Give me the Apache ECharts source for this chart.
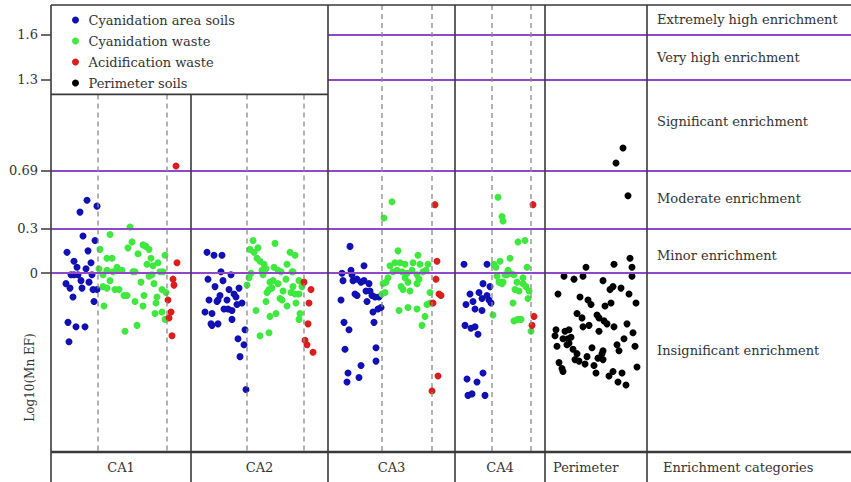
<!DOCTYPE html>
<html><head><meta charset="utf-8">
<script src="https://cdn.jsdelivr.net/npm/echarts@6/dist/echarts.min.js"></script>
<style>html,body{margin:0;padding:0;background:#fff}#c{width:851px;height:482px}</style>
</head><body><div id="c"></div><script>
// ---- data (x = jitter position within the plot, y = Log10(Mn EF)) ----
const categories = ['CA1', 'CA2', 'CA3', 'CA4', 'Perimeter'];
const bandLabels = ['Extremely high enrichment', 'Very high enrichment', 'Significant enrichment',
  'Moderate enrichment', 'Minor enrichment', 'Insignificant enrichment'];
const bandLabelValues = [1.7, 1.45, 1.02, 0.5, 0.12, -0.52];
const thresholds = [0, 0.3, 0.69, 1.3, 1.6];
const tickLabels = ['0', '0.3', '0.69', '1.3', '1.6'];
const seriesNames = ['Cyanidation area soils', 'Cyanidation waste', 'Acidification waste', 'Perimeter soils'];

const soilsCA1 = [[36,0.49],[46,0.45],[29,0.41],[32,0.25],[44,0.22],[16,0.14],[37,0.15],[23,0.08],[40,0.07],[26,0.04],[35,0.03],[20,-0.01],[23,-0.01],[27,-0.01],[41,-0.01],[30,-0.05],[38,-0.06],[15,-0.07],[19,-0.10],[31,-0.10],[42,-0.11],[46,-0.11],[22,-0.16],[43,-0.19],[17,-0.33],[25,-0.36],[34,-0.36],[18,-0.46]];
const soilsCA2 = [[156,0.14],[163,0.12],[171,0.12],[170,0.01],[180,-0.01],[157,-0.04],[172,-0.05],[164,-0.09],[178,-0.11],[188,-0.10],[183,-0.14],[185,-0.16],[169,-0.15],[158,-0.18],[166,-0.19],[167,-0.18],[176,-0.18],[191,-0.20],[186,-0.21],[173,-0.24],[177,-0.24],[181,-0.25],[154,-0.26],[161,-0.27],[181,-0.31],[160,-0.34],[167,-0.34],[161,-0.35],[194,-0.38],[187,-0.44],[193,-0.48],[189,-0.56],[195,-0.78]];
const soilsCA3 = [[299,0.18],[313,0.05],[291,0.00],[292,-0.05],[300,0.02],[301,-0.01],[302,-0.05],[306,-0.04],[310,-0.06],[313,-0.05],[318,-0.07],[304,-0.14],[306,-0.15],[315,-0.12],[319,-0.12],[321,-0.15],[324,-0.16],[328,-0.16],[290,-0.18],[316,-0.19],[330,-0.23],[327,-0.24],[322,-0.26],[293,-0.33],[323,-0.33],[298,-0.38],[294,-0.51],[325,-0.50],[310,-0.62],[325,-0.59],[297,-0.67],[296,-0.73],[308,-0.70]];
const soilsCA4 = [[413,0.06],[436,0.06],[432,-0.07],[439,-0.09],[419,-0.14],[428,-0.13],[431,-0.17],[436,-0.15],[438,-0.18],[440,-0.20],[422,-0.19],[415,-0.21],[424,-0.24],[431,-0.25],[414,-0.35],[420,-0.37],[424,-0.36],[427,-0.41],[432,-0.67],[416,-0.71],[426,-0.73],[417,-0.82],[421,-0.81],[434,-0.82]];

const wasteCA1 = [[79,0.31],[59,0.26],[81,0.21],[77,0.17],[92,0.19],[95,0.18],[49,0.16],[98,0.16],[87,0.13],[114,0.12],[56,0.10],[61,0.10],[100,0.10],[96,0.06],[107,0.07],[102,0.05],[48,0.03],[66,0.04],[56,0.02],[62,0.01],[67,0.02],[71,0.02],[82,0.01],[84,0.01],[109,0.01],[112,0.01],[52,-0.01],[98,-0.02],[101,-0.01],[59,-0.05],[90,-0.06],[103,-0.07],[52,-0.09],[56,-0.10],[64,-0.11],[68,-0.11],[73,-0.15],[76,-0.15],[111,-0.11],[93,-0.15],[115,-0.13],[106,-0.16],[84,-0.19],[105,-0.20],[92,-0.22],[53,-0.22],[104,-0.27],[111,-0.26],[114,-0.31],[86,-0.35],[74,-0.39]];
const wasteCA2 = [[202,0.22],[224,0.20],[207,0.17],[199,0.16],[203,0.14],[239,0.14],[244,0.12],[206,0.10],[209,0.08],[213,0.06],[236,0.06],[223,0.04],[227,0.02],[211,0.02],[215,0.03],[241,0.01],[242,0.01],[200,0.00],[212,-0.01],[230,0.01],[235,-0.04],[198,-0.03],[248,-0.05],[219,-0.06],[222,-0.05],[227,-0.07],[196,-0.08],[251,-0.09],[242,-0.09],[218,-0.11],[221,-0.10],[216,-0.13],[232,-0.12],[240,-0.13],[244,-0.14],[248,-0.14],[229,-0.17],[231,-0.18],[215,-0.19],[236,-0.22],[245,-0.20],[205,-0.25],[225,-0.27],[219,-0.29],[249,-0.27],[248,-0.31],[218,-0.40],[209,-0.42]];
const wasteCA3 = [[341,0.48],[333,0.37],[347,0.15],[367,0.12],[377,0.06],[339,0.05],[344,0.07],[349,0.07],[354,0.06],[362,0.07],[369,0.06],[342,0.01],[346,0.02],[351,0.01],[356,0.00],[361,0.02],[366,-0.01],[372,0.01],[375,0.02],[337,-0.03],[335,-0.06],[332,-0.07],[354,-0.03],[357,-0.06],[368,-0.04],[366,-0.07],[350,-0.09],[352,-0.11],[359,-0.12],[334,-0.13],[331,-0.14],[379,-0.13],[376,-0.21],[379,-0.20],[348,-0.25],[357,-0.23],[366,-0.24],[374,-0.29],[371,-0.35]];
const wasteCA4 = [[447,0.51],[451,0.38],[452,0.35],[467,0.21],[474,0.22],[459,0.10],[449,0.08],[443,0.06],[445,0.04],[476,0.04],[457,0.02],[459,0.00],[456,-0.01],[454,-0.01],[463,-0.01],[446,-0.02],[448,-0.06],[451,-0.07],[452,-0.06],[472,-0.03],[472,-0.07],[475,-0.09],[466,-0.06],[464,-0.11],[468,-0.12],[478,-0.12],[477,-0.17],[462,-0.20],[442,-0.28],[463,-0.32],[467,-0.31],[470,-0.31],[480,-0.39]];

const acidCA1 = [[125,0.72],[126,0.07],[122,-0.04],[123,-0.08],[117,-0.18],[120,-0.26],[118,-0.30],[121,-0.42]];
const acidCA2 = [[253,-0.06],[260,-0.11],[258,-0.20],[257,-0.34],[254,-0.45],[256,-0.48],[262,-0.53]];
const acidCA3 = [[384,0.46],[386,0.08],[385,-0.04],[388,-0.14],[390,-0.15],[382,-0.20],[387,-0.69],[381,-0.79]];
const acidCA4 = [[482,0.46],[483,-0.29],[481,-0.35]];

const perimeterSoils = [[572,0.84],[565,0.74],[577,0.52],[579,0.10],[581,0.04],[563,0.06],[535,0.04],[581,-0.02],[513,-0.02],[523,-0.04],[532,-0.02],[552,-0.05],[562,-0.09],[559,-0.11],[570,-0.10],[507,-0.14],[578,-0.14],[529,-0.16],[537,-0.18],[540,-0.21],[560,-0.20],[554,-0.22],[585,-0.20],[526,-0.27],[546,-0.28],[548,-0.30],[553,-0.32],[556,-0.34],[531,-0.30],[538,-0.35],[532,-0.36],[548,-0.39],[576,-0.34],[563,-0.36],[505,-0.38],[514,-0.39],[518,-0.38],[504,-0.42],[512,-0.44],[517,-0.44],[520,-0.43],[573,-0.44],[582,-0.40],[506,-0.49],[516,-0.48],[518,-0.47],[522,-0.51],[526,-0.54],[566,-0.48],[568,-0.52],[584,-0.49],[541,-0.50],[552,-0.52],[551,-0.54],[524,-0.58],[528,-0.59],[534,-0.61],[536,-0.56],[547,-0.57],[552,-0.58],[543,-0.62],[545,-0.67],[508,-0.60],[511,-0.64],[512,-0.66],[562,-0.66],[558,-0.69],[571,-0.67],[567,-0.73],[575,-0.75],[586,-0.63]];

// ---- chart ----
(function () {
const FONT = 'DejaVu Serif';
const FS = 13;
const TXT = '#333';
const PURPLE = '#8e48c8';
const FRAME = '#3a3a3a';
const X_MAX = 800, Y_MIN = -1.2, Y_MAX = 1.8;
const sepX = [140, 277, 404, 494, 596];     // solid column separators (x units)
const dashX = [47, 116, 196, 253, 331, 381, 441, 480];

const chart = echarts.init(document.getElementById('c'), null, {renderer: 'svg'});

const markLines = thresholds.map(v => [
  {coord: [v >= 1.3 ? sepX[1] : 0, v]}, {coord: [X_MAX, v]}
]);

const option = {
  animation: false,
  grid: {left: 51, top: 5, width: 800, height: 447, show: false},
  xAxis: {type: 'value', min: 0, max: X_MAX, show: false},
  yAxis: {
    type: 'value', min: Y_MIN, max: Y_MAX,
    axisLine: {show: false},
    splitLine: {show: false},
    axisTick: {show: true, customValues: thresholds, length: 10, lineStyle: {color: FRAME, width: 1.5}},
    axisLabel: {show: true, customValues: thresholds, margin: 13, color: TXT,
      fontFamily: FONT, fontSize: FS,
      formatter: v => { const i = thresholds.indexOf(v); return i >= 0 ? tickLabels[i] : ''; }}
  },
  legend: {
    orient: 'vertical', left: 67, top: 7, itemWidth: 16, itemHeight: 7, itemGap: 5,
    icon: 'circle', data: seriesNames,
    textStyle: {color: TXT, fontFamily: FONT, fontSize: FS, lineHeight: 16}
  },
  series: [
    {name: seriesNames[0], type: 'scatter', symbolSize: 7, itemStyle: {color: '#1010b4', opacity: 1},
     data: [].concat(soilsCA1, soilsCA2, soilsCA3, soilsCA4),
     markLine: {silent: true, symbol: ['none', 'none'], label: {show: false},
       lineStyle: {color: PURPLE, width: 2, type: 'solid'}, data: markLines}},
    {name: seriesNames[1], type: 'scatter', symbolSize: 7, itemStyle: {color: '#3ee83e', opacity: 1},
     data: [].concat(wasteCA1, wasteCA2, wasteCA3, wasteCA4)},
    {name: seriesNames[2], type: 'scatter', symbolSize: 7, itemStyle: {color: '#dd1c1c', opacity: 1},
     data: [].concat(acidCA1, acidCA2, acidCA3, acidCA4)},
    {name: seriesNames[3], type: 'scatter', symbolSize: 7, itemStyle: {color: '#000000', opacity: 1},
     data: perimeterSoils}
  ]
};
chart.setOption(option);

// ---- frame, separators and text placed through the axes' scales ----
const P = (x, y) => chart.convertToPixel({gridIndex: 0}, [x, y]);
const H = chart.getHeight();
const yTop = P(0, Y_MAX)[1];
const yBottom = P(0, Y_MIN)[1];
const xLeft = P(0, 0)[0];
const xRight = P(X_MAX, 0)[0];
const legendBottom = P(0, 1.2)[1];
const g = [];
const line = (x1, y1, x2, y2, w, dash) => g.push({type: 'line', silent: true, z: 50,
  shape: {x1, y1, x2, y2}, style: {stroke: dash ? '#8a8a8a' : FRAME, lineWidth: w, lineDash: dash || null}});

dashX.forEach(x => {
  const px = P(x, 0)[0];
  line(px, px < P(sepX[1], 0)[0] ? legendBottom : yTop, px, yBottom, 1.3, [5, 4]);
});
line(xLeft, yTop, xLeft, H, 1.6);
line(xLeft, yTop, xRight, yTop, 1.6);
line(xLeft, legendBottom, P(sepX[1], 0)[0], legendBottom, 1.6);
line(xLeft, yBottom, xRight, yBottom, 2.6);
sepX.forEach((x, i) => {
  const px = P(x, 0)[0];
  line(px, i === 0 ? legendBottom : yTop, px, H, 1.6);
});

const font = FS + 'px ' + FONT;
const labelY = (yBottom + H) / 2;
const bounds = [0].concat(sepX);
categories.forEach((c, i) => {
  const isLast = i === categories.length - 1;
  const x = isLast ? P(bounds[i], 0)[0] + 8 : (P(bounds[i], 0)[0] + P(bounds[i + 1], 0)[0]) / 2;
  g.push({type: 'text', z: 60, x, y: labelY, style: {text: c, fill: TXT, font,
    textAlign: isLast ? 'left' : 'center', textVerticalAlign: 'middle'}});
});
g.push({type: 'text', z: 60, x: P(sepX[4], 0)[0] + 16, y: labelY, style: {text: 'Enrichment categories',
  fill: TXT, font, textAlign: 'left', textVerticalAlign: 'middle'}});

bandLabels.forEach((t, i) => {
  g.push({type: 'text', z: 60, x: P(sepX[4], 0)[0] + 10, y: P(0, bandLabelValues[i])[1],
    style: {text: t, fill: TXT, font, textAlign: 'left', textVerticalAlign: 'middle'}});
});

g.push({type: 'text', z: 60, x: 30, y: P(0, -0.7)[1], rotation: Math.PI / 2,
  style: {text: 'Log10(Mn EF)', fill: TXT, font: '12px ' + FONT, textAlign: 'center', textVerticalAlign: 'middle'}});

chart.setOption({graphic: g});
})();
</script></body></html>
